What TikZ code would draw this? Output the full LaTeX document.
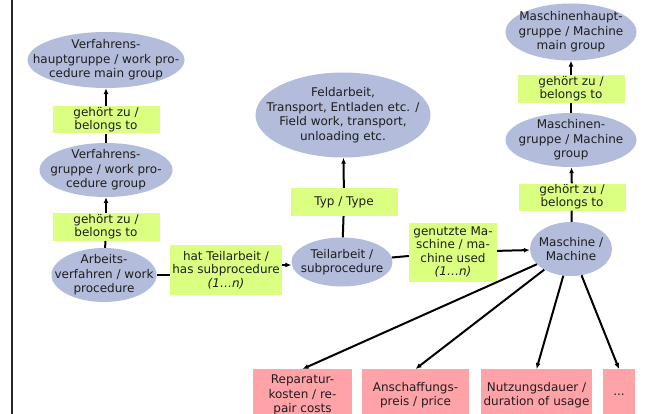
\documentclass[tikz,border=0pt]{standalone}
\usepackage{fontspec}
\setmainfont{DejaVu Sans}
\usetikzlibrary{shapes.geometric,arrows.meta}
\definecolor{ell}{HTML}{B3BCDB}
\definecolor{lbl}{HTML}{DBFF80}
\definecolor{pnk}{HTML}{FFA3A8}
\definecolor{txt}{HTML}{1E1E1E}
\tikzset{
  concept/.style={ellipse, fill=ell, inner sep=0pt},
  ctext/.style={inner sep=0pt, align=center, text=txt},
  linkbox/.style={rectangle, fill=lbl, inner sep=0pt, align=center, text=txt},
  attrbox/.style={rectangle, fill=pnk, inner sep=0pt, align=center, text=txt, minimum height=52pt},
  conn/.style={line width=2pt, black},
  arr/.style={conn, -{Latex[length=6pt,width=5pt]}},
}
\begin{document}
\begin{tikzpicture}[x=1pt,y=-1pt,font=\fontsize{12}{14.5}\selectfont]
\clip (0,0) rectangle (655,414);
\fill[white] (0,0) rectangle (655,414);
\draw[line width=1.2pt, black!85] (12,0) -- (12,414);

% left column
\node[concept, minimum width=157pt, minimum height=56pt] (vh) at (106,60) {};
\node[ctext] (vht) at (vh) {Verfahrens-\\hauptgruppe / work pro-\\cedure main group};
\node[linkbox, minimum width=107pt, minimum height=27pt, font=\fontsize{12}{13}\selectfont] (l1) at (106,120) {gehört zu /\\belongs to};
\node[concept, minimum width=133pt, minimum height=54pt] (vg) at (106,170) {};
\node[ctext] (vgt) at (vg) {Verfahrens-\\gruppe / work pro-\\cedure group};
\node[linkbox, minimum width=107pt, minimum height=28pt, font=\fontsize{12}{13}\selectfont] (l2) at (106,227) {gehört zu /\\belongs to};
\node[concept, minimum width=105pt, minimum height=54pt] (av) at (104,275) {};
\node[ctext] (avt) at (av) {Arbeits-\\verfahren / work\\procedure};

% middle
\node[linkbox, minimum width=112pt, minimum height=50pt, font=\fontsize{12}{13.5}\selectfont] (ht) at (226,270) {hat Teilarbeit /\\has subprocedure\\\textit{(1…n)}};
\node[concept, minimum width=101pt, minimum height=49pt] (ta) at (342,262) {};
\node[ctext] (tat) at (ta) {Teilarbeit /\\subprocedure};
\node[linkbox, minimum width=107pt, minimum height=28pt] (ty) at (344,202) {Typ / Type};
\node[concept, minimum width=175pt, minimum height=85pt] (fa) at (343,115) {};
\node[ctext] (fat) at (fa) {Feldarbeit,\\Transport, Entladen etc. /\\Field work, transport,\\unloading etc.};
\node[linkbox, minimum width=88pt, minimum height=59pt, font=\fontsize{12}{13.5}\selectfont] (gm) at (453,252) {genutzte Ma-\\schine / ma-\\chine used\\\textit{(1…n)}};

% right column
\node[concept, minimum width=82pt, minimum height=54pt] (m) at (571,249) {};
\node[ctext] (mt) at (m) {Maschine /\\Machine};
\node[linkbox, minimum width=107pt, minimum height=27pt, font=\fontsize{12}{13}\selectfont] (l3) at (572,197) {gehört zu /\\belongs to};
\node[concept, minimum width=131pt, minimum height=54pt] (mg) at (571,140) {};
\node[ctext] (mgt) at (mg) {Maschinen-\\gruppe / Machine\\group};
\node[linkbox, minimum width=107pt, minimum height=28pt, font=\fontsize{12}{13}\selectfont] (l4) at (571,89) {gehört zu /\\belongs to};
\node[concept, minimum width=131pt, minimum height=57pt] (mh) at (571,32) {};
\node[ctext] (mht) at (mh) {Maschinenhaupt-\\gruppe / Machine\\main group};

% attributes
\node[attrbox, minimum width=99pt, anchor=north] (a1) at (302.5,369) {Reparatur-\\kosten / re-\\pair costs};
\node[attrbox, minimum width=107pt, anchor=north] (a2) at (415.5,369) {Anschaffungs-\\preis / price};
\node[attrbox, minimum width=111pt, anchor=north] (a3) at (536.5,369) {Nutzungsdauer /\\duration of usage};
\node[attrbox, minimum width=32pt, anchor=north] (a4) at (619,369) {...};

% connectors
\draw[conn] (av) -- (l2);
\draw[arr] (l2) -- (vg);
\draw[conn] (vg) -- (l1);
\draw[arr] (l1) -- (vh);
\draw[conn] (av.east) -- (ht.west |- av.east);
\draw[arr] ([yshift=-3pt]ht.east |- ta.west) -- ([yshift=-3pt]ta.west);
\draw[conn] (ta) -- (ty);
\draw[arr] (ty) -- (fa);
\draw[conn] (ta) -- (gm);
\draw[arr] (gm) -- (m);
\draw[conn] (m) -- (l3);
\draw[arr] (l3) -- (mg);
\draw[conn] (mg) -- (l4);
\draw[arr] (l4) -- (mh);
\draw[arr] (m) -- (a1.north);
\draw[arr] (m) -- (a2.north);
\draw[arr] (m) -- (a3.north);
\draw[arr] (m) -- (a4.north);
\end{tikzpicture}
\end{document}
